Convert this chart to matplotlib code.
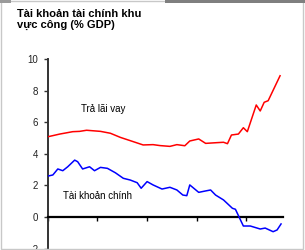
import matplotlib
matplotlib.use("Agg")
import matplotlib.pyplot as plt
from matplotlib.patches import Rectangle

plt.rcParams["font.family"] = ["Liberation Sans", "DejaVu Sans"]

# Values (year, % GDP)
INTEREST_YEARS = [1985.0, 1985.5, 1986.2, 1986.9, 1987.5, 1988.2, 1988.9, 1989.5,
                  1990.3, 1991.3, 1992.3, 1993.6, 1994.6, 1995.6, 1996.3, 1997.3,
                  1998.0, 1998.8, 1999.3, 2000.2, 2000.9, 2001.9, 2002.7, 2003.1,
                  2003.5, 2004.2, 2004.7, 2005.1, 2006.0, 2006.4, 2006.8, 2007.2,
                  2008.4]
INTEREST_VALUES = [5.08, 5.15, 5.25, 5.33, 5.40, 5.42, 5.49, 5.46,
                   5.42, 5.30, 5.04, 4.77, 4.56, 4.58, 4.52, 4.47,
                   4.58, 4.51, 4.81, 4.94, 4.66, 4.70, 4.73, 4.64,
                   5.19, 5.25, 5.65, 5.40, 7.09, 6.71, 7.26, 7.36,
                   8.94]

PRIMARY_YEARS = [1985.0, 1985.5, 1986.0, 1986.5, 1987.0, 1987.7, 1988.0, 1988.5,
                 1989.2, 1989.7, 1990.3, 1991.0, 1991.8, 1992.6, 1993.3, 1994.0,
                 1994.4, 1995.0, 1995.6, 1996.5, 1997.3, 1998.0, 1998.6, 1999.0,
                 1999.3, 2000.2, 2000.9, 2001.4, 2001.9, 2002.7, 2003.6, 2003.9,
                 2004.7, 2005.4, 2006.4, 2006.9, 2007.7, 2008.1, 2008.5]
PRIMARY_VALUES = [2.59, 2.66, 3.04, 2.93, 3.18, 3.60, 3.50, 3.04,
                  3.18, 2.93, 3.14, 3.08, 2.80, 2.45, 2.34, 2.17,
                  1.82, 2.24, 2.03, 1.77, 1.88, 1.71, 1.39, 1.35,
                  2.03, 1.56, 1.65, 1.71, 1.39, 1.08, 0.55, 0.49,
                  -0.57, -0.57, -0.76, -0.70, -0.93, -0.82, -0.44]

Y_TICKS = [-2, 0, 2, 4, 6, 8, 10]
X_TICKS = [1985, 1990, 1995, 2000, 2005]

fig = plt.figure(figsize=(3.05, 2.5), dpi=100)
fig.patch.set_facecolor("white")

# light frame and dark strip along the top edge
fig.add_artist(Rectangle((0.004, 0.006), 0.99, 0.99, transform=fig.transFigure,
                         fill=False, edgecolor="#c8c8c8", linewidth=1.0))
fig.add_artist(Rectangle((0.54, 0.988), 0.46, 0.012, transform=fig.transFigure,
                         facecolor="#7f7f7f", edgecolor="none"))
fig.add_artist(Rectangle((0.0, 0.988), 0.035, 0.012, transform=fig.transFigure,
                         facecolor="#9a9a9a", edgecolor="none"))

ax = fig.add_axes([0.157, 0.0056, 0.771, 0.7584])
ax.plot(INTEREST_YEARS, INTEREST_VALUES, color="#ff0000", linewidth=1.1, zorder=3)
ax.plot(PRIMARY_YEARS, PRIMARY_VALUES, color="#0000ff", linewidth=1.1, zorder=3)

ax.set_xlim(1985, 2008.7)
ax.set_ylim(-2, 10)
ax.set_yticks(Y_TICKS)
ax.set_xticks(X_TICKS)
ax.set_xticklabels([])

for side in ["top", "right"]:
    ax.spines[side].set_visible(False)
ax.spines["left"].set_color("#333333")
ax.spines["left"].set_linewidth(1.4)
# x axis sits on the zero line
ax.spines["bottom"].set_position(("data", 0))
ax.spines["bottom"].set_color("black")
ax.spines["bottom"].set_linewidth(1.6)

ax.tick_params(axis="y", direction="out", length=3, width=1.0, color="#333333",
               labelsize=7, labelcolor="#222222", pad=4)
ax.tick_params(axis="x", direction="out", length=3, width=1.0, color="black")
ax.patch.set_alpha(0)

ax.text(1988.3, 6.85, "Trả lãi vay", fontsize=7, color="black", ha="left", va="center")
ax.text(1986.5, 1.35, "Tài khoản chính", fontsize=7, color="black", ha="left", va="center")

fig.text(0.056, 0.922, "Tài khoản tài chính khu\nvực công (% GDP)", fontsize=8,
         fontweight="bold", ha="left", va="center", linespacing=1.15)

fig.savefig("out.png", dpi=100)
